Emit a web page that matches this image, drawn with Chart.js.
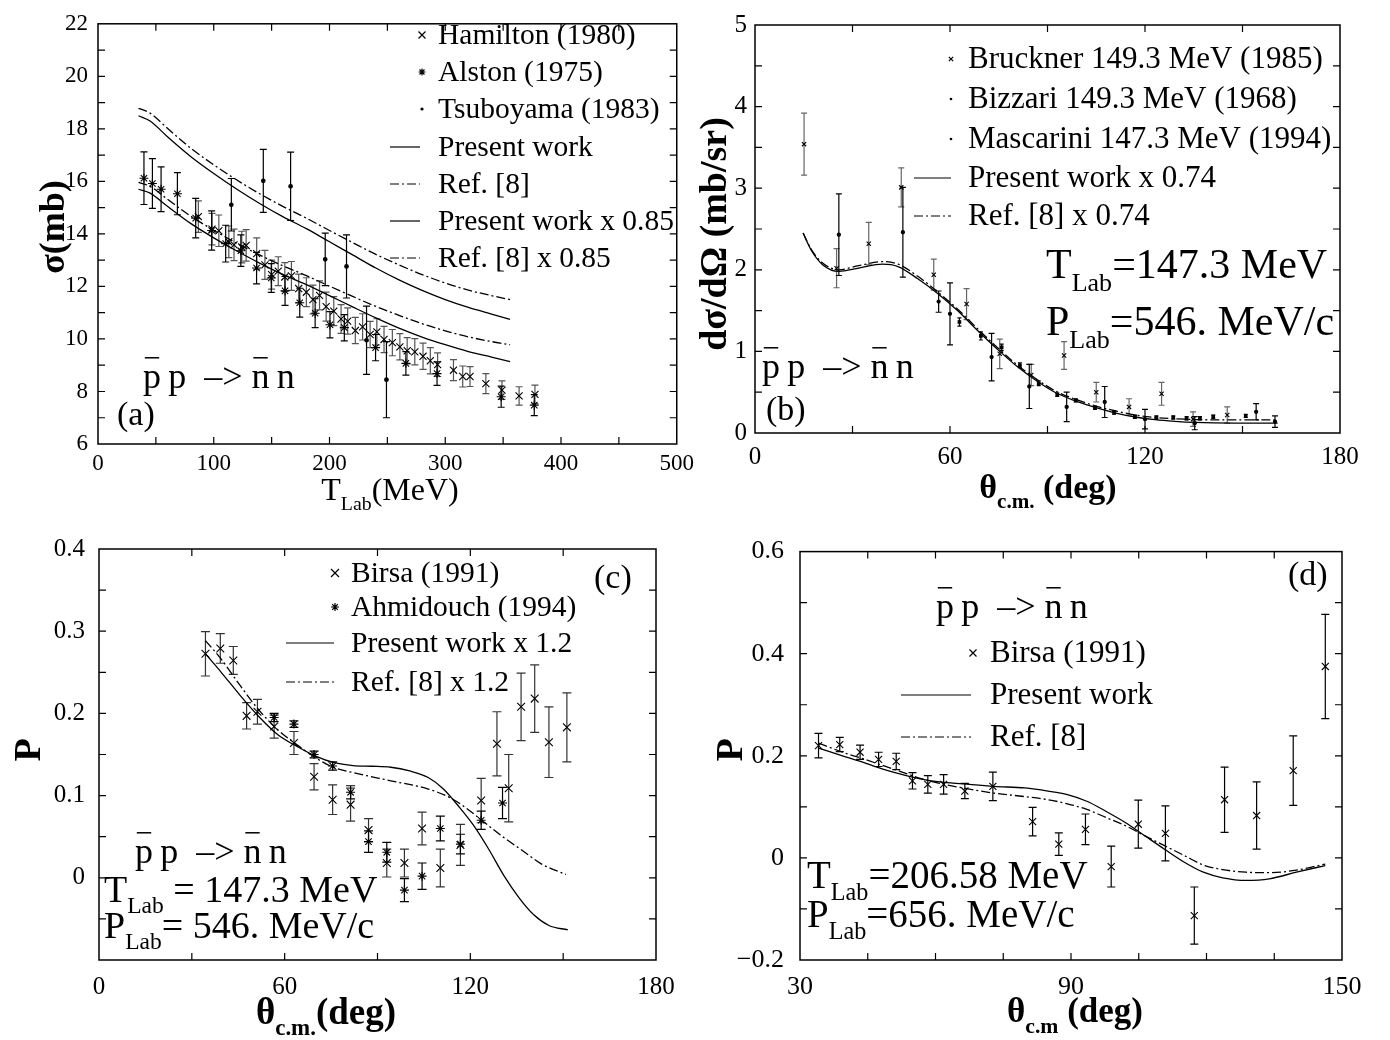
<!DOCTYPE html>
<html>
<head>
<meta charset="utf-8">
<title>pbar p -> nbar n</title>
<script src="https://cdn.jsdelivr.net/npm/chart.js@4.4.1/dist/chart.umd.min.js"></script>
<style>
  html, body { margin: 0; padding: 0; background: #fff; }
  body { width: 1390px; height: 1040px; position: relative; overflow: hidden; }
  canvas { position: absolute; }
</style>
</head>
<body>
<canvas id="panelA" width="700" height="520" style="left:0;top:0"></canvas>
<canvas id="panelB" width="700" height="520" style="left:690px;top:0"></canvas>
<canvas id="panelC" width="700" height="520" style="left:0;top:520px"></canvas>
<canvas id="panelD" width="700" height="520" style="left:690px;top:520px"></canvas>
<script>
const SERIF = '"Liberation Serif", "Times New Roman", Times, serif';

// ---------- (a) total cross section vs T_Lab ----------
const hamiltonT = [86.7, 98.5, 104.4, 113.0, 117.5, 124.2, 128.0, 137.1, 144.2, 150.0,
  155.7, 161.4, 167.1, 173.4, 180.0, 185.7, 191.4, 197.1, 203.7, 210.0,
  215.7, 222.3, 228.6, 235.1, 240.9, 247.1, 254.3, 260.8, 267.1, 273.7,
  280.8, 287.1, 293.4, 307.1, 315.1, 321.4, 335.1, 349.0, 363.8, 377.5];
const hamiltonSigma = [14.66, 14.18, 14.12, 13.70, 13.58, 13.50, 13.56, 13.25, 12.82, 12.45,
  12.58, 12.36, 12.40, 11.92, 11.78, 11.50, 11.66, 11.23, 11.06, 10.76,
  10.68, 10.32, 10.46, 10.17, 10.27, 9.98, 9.86, 9.70, 9.55, 9.51,
  9.34, 9.17, 9.02, 8.81, 8.57, 8.57, 8.30, 8.05, 7.83, 7.89];
const hamiltonErr = [0.6, 0.6, 0.6, 0.6, 0.6, 0.6, 0.6, 0.6, 0.55, 0.55,
  0.55, 0.55, 0.55, 0.55, 0.55, 0.55, 0.55, 0.55, 0.55, 0.55,
  0.5, 0.5, 0.5, 0.5, 0.5, 0.5, 0.5, 0.5, 0.5, 0.5,
  0.5, 0.5, 0.45, 0.4, 0.4, 0.38, 0.38, 0.35, 0.35, 0.35];

const alstonT = [39.7, 47.0, 54.5, 68.6, 84.4, 98.2, 110.3, 123.4, 137.0, 149.7,
  161.6, 174.3, 187.6, 200.4, 212.8, 239.8, 266.0, 292.9, 348.3, 376.9];
const alstonSigma = [16.12, 15.92, 15.70, 15.53, 14.60, 14.13, 13.63, 13.36, 12.70, 12.32,
  11.83, 11.38, 10.98, 10.54, 10.43, 9.67, 9.07, 8.68, 7.80, 7.48];
const alstonErr = [1.0, 0.95, 0.85, 0.8, 0.75, 0.75, 0.7, 0.6, 0.6, 0.55,
  0.55, 0.55, 0.55, 0.5, 0.5, 0.5, 0.45, 0.45, 0.4, 0.4];

const tsuboyamaT = [115.2, 142.8, 166.4, 196.3, 214.7, 232.0, 249.2];
const tsuboyamaSigma = [15.11, 16.02, 15.81, 13.03, 12.76, 9.95, 8.45];
const tsuboyamaErr = [1.0, 1.2, 1.3, 1.0, 1.2, 1.3, 1.45];

const curveT = [35, 45, 60, 80, 100, 120, 140, 160, 180, 200, 220, 240, 260, 280, 300, 320, 340, 356];
const presentSigma = [18.5, 18.3, 17.7, 16.95, 16.3, 15.7, 15.15, 14.65, 14.2, 13.7, 13.2, 12.7, 12.25, 11.85, 11.5, 11.2, 10.95, 10.75];
const ref8Sigma = [18.78, 18.6, 18.02, 17.27, 16.63, 16.05, 15.52, 15.04, 14.6, 14.13, 13.67, 13.22, 12.82, 12.45, 12.13, 11.86, 11.65, 11.5];
const present085Sigma = [15.7, 15.55, 15.05, 14.4, 13.85, 13.35, 12.88, 12.45, 12.07, 11.65, 11.22, 10.8, 10.41, 10.07, 9.78, 9.52, 9.31, 9.14];
const ref8085Sigma = [15.96, 15.81, 15.32, 14.68, 14.14, 13.64, 13.19, 12.78, 12.41, 12.01, 11.62, 11.24, 10.9, 10.58, 10.31, 10.08, 9.9, 9.78];

const ticksAx = [0, 100, 200, 300, 400, 500];
const ticksAy = [6, 8, 10, 12, 14, 16, 18, 20, 22];

// ---------- (b) differential cross section at 147.3 MeV ----------
const brucknerAngle = [15.1, 25.1, 35.0, 45.0, 55.0, 65.1, 75.3, 85.0, 95.1, 105.0, 115.1, 125.1, 134.8, 145.3];
const brucknerDsig = [3.54, 2.02, 2.32, 3.01, 1.94, 1.58, 0.97, 0.71, 0.95, 0.5, 0.32, 0.48, 0.17, 0.22];
const brucknerErr = [0.38, 0.24, 0.26, 0.24, 0.19, 0.19, 0.18, 0.13, 0.17, 0.12, 0.1, 0.14, 0.09, 0.1];

const bizzariAngle = [25.8, 45.5, 56.5, 60.0, 72.8, 84.4, 95.9, 107.6, 120.0, 135.3, 154.2, 160.0];
const bizzariDsig = [2.43, 2.46, 1.61, 1.46, 0.93, 0.57, 0.32, 0.38, 0.17, 0.12, 0.26, 0.14];
const bizzariErr = [0.5, 0.55, 0.13, 0.38, 0.29, 0.27, 0.18, 0.19, 0.12, 0.08, 0.1, 0.07];

const mascariniAngle = [62.9, 69.5, 75.9, 81.5, 87.3, 93.0, 98.7, 104.6, 110.5, 116.9, 123.5, 128.7, 132.8, 136.9, 141.0, 151.0];
const mascariniDsig = [1.36, 1.19, 1.05, 0.83, 0.61, 0.47, 0.4, 0.31, 0.25, 0.2, 0.19, 0.19, 0.18, 0.18, 0.2, 0.21];
const mascariniErr = [0.05, 0.05, 0.04, 0.03, 0.03, 0.02, 0.02, 0.02, 0.02, 0.02, 0.02, 0.02, 0.02, 0.02, 0.02, 0.02];

const curveAngleB = [14.8, 17.3, 20.9, 25.8, 31.9, 39.2, 44, 50.1, 56.2, 62.3, 68.4, 74.5, 80.5, 86.6, 92.7, 98.8, 104.9, 111, 117, 123.1, 129.2, 135.3, 147.4, 160.8];
const presentDsig = [2.45, 2.24, 2.06, 1.98, 2.02, 2.07, 2.04, 1.89, 1.71, 1.5, 1.26, 1.03, 0.82, 0.64, 0.49, 0.39, 0.31, 0.245, 0.196, 0.163, 0.143, 0.13, 0.122, 0.122];
const ref8Dsig = [2.45, 2.25, 2.08, 2.0, 2.05, 2.1, 2.07, 1.92, 1.73, 1.52, 1.28, 1.05, 0.84, 0.66, 0.51, 0.41, 0.33, 0.27, 0.22, 0.19, 0.175, 0.165, 0.16, 0.16];

const ticksBx = [0, 60, 120, 180];
const ticksBy = [0, 1, 2, 3, 4, 5];

// ---------- (c) analysing power at 147.3 MeV ----------
const birsaCAngle = [34.4, 39.2, 43.4, 47.7, 51.2, 56.6, 63.0, 69.5, 75.5, 81.3, 87.1, 93.0, 98.7, 104.4, 110.3, 116.8, 123.5, 128.6, 132.4, 136.4, 140.8, 145.4, 151.2];
const birsaCP = [0.2725, 0.279, 0.2644, 0.197, 0.202, 0.184, 0.164, 0.123, 0.095, 0.089, 0.058, 0.018, 0.018, 0.06, 0.012, 0.04, 0.094, 0.163, 0.109, 0.208, 0.218, 0.165, 0.183];
const birsaCErr = [0.027, 0.018, 0.017, 0.016, 0.015, 0.014, 0.014, 0.016, 0.018, 0.02, 0.014, 0.017, 0.017, 0.02, 0.023, 0.025, 0.027, 0.039, 0.041, 0.041, 0.041, 0.043, 0.042];

const ahmidouchAngle = [56.6, 63.0, 69.5, 75.5, 81.3, 87.1, 93.0, 98.7, 104.4, 110.3, 116.8, 123.5, 130.4];
const ahmidouchP = [0.195, 0.187, 0.15, 0.136, 0.104, 0.044, 0.031, -0.015, 0.002, 0.06, 0.041, 0.07, 0.091];
const ahmidouchErr = [0.005, 0.004, 0.004, 0.005, 0.008, 0.013, 0.012, 0.014, 0.016, 0.015, 0.012, 0.011, 0.019];

const presentAngleC = [34.4, 39.5, 45.6, 51.7, 57.8, 63.9, 70, 76, 82.1, 88.2, 94.3, 100.4, 106.4, 111.3, 116.2, 121, 125.9, 130.8, 135.7, 140.5, 145.4, 151.5];
const presentPC = [0.2725, 0.25, 0.222, 0.196, 0.174, 0.16, 0.148, 0.14, 0.1365, 0.1357, 0.1345, 0.13, 0.122, 0.108, 0.087, 0.064, 0.035, 0.003, -0.024, -0.045, -0.058, -0.0634];
const refAngleC = [34.4, 39.5, 45.6, 51.7, 57.8, 63.9, 70, 76, 82.1, 94.3, 106.4, 113.7, 118.6, 124.7, 130.8, 136.9, 142.9, 150.9];
const refPC = [0.2886, 0.266, 0.234, 0.204, 0.18, 0.162, 0.146, 0.134, 0.128, 0.118, 0.108, 0.097, 0.085, 0.067, 0.049, 0.033, 0.017, 0.004];

const ticksCx = [0, 60, 120, 180];
const ticksCy = [0, 0.1, 0.2, 0.3, 0.4];

// ---------- (d) analysing power at 206.58 MeV ----------
const birsaDAngle = [34.1, 38.8, 43.3, 47.4, 51.3, 54.9, 58.3, 61.8, 66.5, 72.7, 81.5, 87.3, 93.2, 98.9, 104.9, 110.9, 117.3, 124.0, 131.1, 139.2, 146.3];
const birsaDP = [0.22, 0.222, 0.207, 0.193, 0.189, 0.151, 0.144, 0.144, 0.131, 0.14, 0.071, 0.027, 0.056, -0.017, 0.066, 0.048, -0.113, 0.114, 0.083, 0.171, 0.375];
const birsaDErr = [0.024, 0.014, 0.014, 0.014, 0.016, 0.016, 0.017, 0.019, 0.015, 0.028, 0.028, 0.022, 0.03, 0.04, 0.047, 0.054, 0.056, 0.064, 0.066, 0.068, 0.102];

const curveAngleD = [34.1, 39.4, 43.7, 48, 52.3, 56.6, 60.9, 66.1, 72.9, 79.8, 84.9, 89.2, 93.5, 97.8, 102.1, 106.4, 110.7, 115, 119.3, 123.6, 128.7, 133.9, 139.9, 146.3];
const presentPD = [0.215, 0.2, 0.188, 0.175, 0.164, 0.155, 0.149, 0.145, 0.14, 0.137, 0.131, 0.124, 0.111, 0.091, 0.069, 0.043, 0.017, -0.008, -0.028, -0.039, -0.044, -0.041, -0.028, -0.015];
const refPD = [0.225, 0.207, 0.195, 0.182, 0.169, 0.156, 0.146, 0.137, 0.127, 0.12, 0.114, 0.106, 0.095, 0.079, 0.063, 0.043, 0.024, 0.005, -0.014, -0.023, -0.028, -0.029, -0.024, -0.012];

const ticksDx = [30, 90, 150];
const ticksDy = [-0.2, 0, 0.2, 0.4, 0.6];

// ---------- helpers ----------
function pts(xs, ys) {
  return xs.map((x, i) => ({ x: x, y: ys[i] }));
}

function marks(label, xs, ys, errs, style, radius, errColor, cap) {
  return {
    label: label, data: pts(xs, ys), errs: errs, errColor: errColor, capWidth: cap,
    showLine: false, pointStyle: style, pointRadius: radius,
    borderColor: '#000', backgroundColor: '#000', borderWidth: 1.1
  };
}

function curve(label, xs, ys, dashed) {
  return {
    label: label, data: pts(xs, ys), showLine: true, pointRadius: 0,
    borderColor: '#000', borderWidth: 1.3, borderDash: dashed ? [9, 3, 2, 3] : [],
    cubicInterpolationMode: 'monotone', fill: false
  };
}

function fmt(v) {
  return String(Math.round(v * 1000) / 1000).replace('-', '\u2212');
}

function axes(o) {
  const tickFont = { family: SERIF, size: o.font };
  return {
    x: {
      type: 'linear', min: o.xmin, max: o.xmax,
      grid: { display: false, drawTicks: false }, border: { display: false },
      afterBuildTicks: s => { s.ticks = o.xLabels.map(v => ({ value: v })); },
      afterFit: s => { s.height = o.xh; },
      ticks: { color: '#000', font: tickFont, padding: o.xpad, maxRotation: 0, autoSkip: false, callback: v => fmt(v) }
    },
    y: {
      type: 'linear', min: o.ymin, max: o.ymax,
      grid: { display: false, drawTicks: false }, border: { display: false },
      afterBuildTicks: s => { s.ticks = o.yLabels.map(v => ({ value: v })); },
      afterFit: s => { s.width = o.yw; },
      ticks: { color: '#000', font: tickFont, padding: o.ypad, autoSkip: false, callback: v => fmt(v) }
    }
  };
}

// parts: [text, kind]  kind '' normal, 's' subscript, 'o' overlined
function drawRich(ctx, t) {
  const sub = t.size * 0.62;
  const font = sz => (t.bold ? 'bold ' : '') + sz + 'px ' + SERIF;
  const widths = t.parts.map(([s, k]) => { ctx.font = font(k === 's' ? sub : t.size); return ctx.measureText(s).width; });
  const total = widths.reduce((m, w) => m + w, 0);
  ctx.save();
  ctx.translate(t.x, t.y);
  if (t.rot) ctx.rotate(-Math.PI / 2);
  ctx.textAlign = 'left';
  ctx.textBaseline = 'alphabetic';
  let cx = t.align === 'center' ? -total / 2 : 0;
  t.parts.forEach(([s, k], i) => {
    ctx.font = font(k === 's' ? sub : t.size);
    ctx.fillText(s, cx, k === 's' ? t.size * 0.3 : 0);
    if (k === 'o') ctx.fillRect(cx + widths[i] * 0.1, -t.size * 0.86, widths[i] * 0.8, 1.5);
    cx += widths[i];
  });
  ctx.restore();
}

function drawMark(ctx, kind, x, y, L, r) {
  ctx.beginPath();
  if (kind === 'cross') {
    ctx.moveTo(x - r, y - r); ctx.lineTo(x + r, y + r);
    ctx.moveTo(x - r, y + r); ctx.lineTo(x + r, y - r);
    ctx.stroke();
  } else if (kind === 'star') {
    for (let k = 0; k < 4; k++) {
      const a = k * Math.PI / 4;
      ctx.moveTo(x - r * Math.cos(a), y - r * Math.sin(a));
      ctx.lineTo(x + r * Math.cos(a), y + r * Math.sin(a));
    }
    ctx.stroke();
  } else if (kind === 'dot') {
    ctx.arc(x, y, r, 0, Math.PI * 2);
    ctx.fill();
  } else {
    ctx.setLineDash(kind === 'dashdot' ? [9, 3, 2, 3] : []);
    ctx.moveTo(L[0], y); ctx.lineTo(L[1], y);
    ctx.stroke();
    ctx.setLineDash([]);
  }
}

function reaction(x, y, size) {
  return { x: x, y: y, size: size, parts: [['p', 'o'], ['\u2009p', ''], ['  \u2013> ', ''], ['n', 'o'], ['\u2009n', '']] };
}

function makeDeco(id, o) {
  return {
    id: id,
    beforeDatasetsDraw(chart) {
      const ctx = chart.ctx, sx = chart.scales.x, sy = chart.scales.y;
      chart.data.datasets.forEach(ds => {
        if (!ds.errs) return;
        ctx.save();
        ctx.strokeStyle = ds.errColor;
        ctx.lineWidth = 1.2;
        ds.data.forEach((p, i) => {
          const px = sx.getPixelForValue(p.x);
          const lo = sy.getPixelForValue(p.y - ds.errs[i]);
          const hi = sy.getPixelForValue(p.y + ds.errs[i]);
          const c = ds.capWidth;
          ctx.beginPath();
          ctx.moveTo(px, lo); ctx.lineTo(px, hi);
          ctx.moveTo(px - c, lo); ctx.lineTo(px + c, lo);
          ctx.moveTo(px - c, hi); ctx.lineTo(px + c, hi);
          ctx.stroke();
        });
        ctx.restore();
      });
    },
    afterDraw(chart) {
      const ctx = chart.ctx, a = chart.chartArea, sx = chart.scales.x, sy = chart.scales.y;
      ctx.save();
      ctx.strokeStyle = '#000';
      ctx.fillStyle = '#000';
      ctx.lineWidth = 1.5;
      ctx.strokeRect(a.left, a.top, a.right - a.left, a.bottom - a.top);
      // inward ticks on all four sides
      ctx.lineWidth = 1.2;
      ctx.beginPath();
      const nx = Math.round((sx.max - sx.min) / o.stepX);
      for (let k = 1; k < nx; k++) {
        const p = sx.getPixelForValue(sx.min + k * o.stepX);
        ctx.moveTo(p, a.bottom); ctx.lineTo(p, a.bottom - o.tick);
        ctx.moveTo(p, a.top); ctx.lineTo(p, a.top + o.tick);
      }
      const ny = Math.round((sy.max - sy.min) / o.stepY);
      for (let k = 1; k < ny; k++) {
        const p = sy.getPixelForValue(sy.min + k * o.stepY);
        ctx.moveTo(a.left, p); ctx.lineTo(a.left + o.tick, p);
        ctx.moveTo(a.right, p); ctx.lineTo(a.right - o.tick, p);
      }
      ctx.stroke();
      o.texts.forEach(t => drawRich(ctx, t));
      // legend
      const L = o.legend;
      ctx.lineWidth = 1.2;
      L.items.forEach((it, i) => {
        const y = L.rows[i];
        ctx.font = L.size + 'px ' + SERIF;
        ctx.textAlign = 'left';
        ctx.textBaseline = 'middle';
        ctx.fillText(it[0], L.textX, y + 1);
        drawMark(ctx, it[1], L.markX, y, L.lineX, it[2] || L.r);
      });
      ctx.restore();
    }
  };
}

function build(id, datasets, ax, pad, deco) {
  return new Chart(document.getElementById(id), {
    type: 'scatter',
    data: { datasets: datasets },
    options: {
      responsive: false, animation: false, devicePixelRatio: 1, events: [],
      layout: { padding: pad },
      plugins: { legend: { display: false }, tooltip: { enabled: false } },
      scales: axes(ax)
    },
    plugins: [makeDeco('deco_' + id, deco)]
  });
}

// ---------- panel (a) ----------
build('panelA', [
  curve('Present work', curveT, presentSigma, false),
  curve('Ref. [8]', curveT, ref8Sigma, true),
  curve('Present work x 0.85', curveT, present085Sigma, false),
  curve('Ref. [8] x 0.85', curveT, ref8085Sigma, true),
  marks('Hamilton (1980)', hamiltonT, hamiltonSigma, hamiltonErr, 'crossRot', 5, '#555', 3.5),
  marks('Alston (1975)', alstonT, alstonSigma, alstonErr, 'star', 4.5, '#000', 3.5),
  marks('Tsuboyama (1983)', tsuboyamaT, tsuboyamaSigma, tsuboyamaErr, 'circle', 1.8, '#000', 3.5)
], { xmin: 0, xmax: 500, ymin: 6, ymax: 22, xLabels: ticksAx, yLabels: ticksAy, xh: 76, yw: 98, xpad: 6, ypad: 10, font: 23 },
  { top: 13, right: 19, left: 0, bottom: 0 },
  { stepX: 50, stepY: 1, tick: 7,
    texts: [
      { x: 390, y: 500, size: 32, align: 'center', parts: [['T', ''], ['Lab', 's'], ['(MeV)', '']] },
      { x: 64, y: 227, size: 36, bold: true, rot: true, align: 'center', parts: [['\u03c3(mb)', '']] },
      { x: 117, y: 425, size: 34, parts: [['(a)', '']] },
      reaction(143, 388, 36)
    ],
    legend: { textX: 438, markX: 422, lineX: [390, 420], r: 3.5, size: 29.5, rows: [35, 72, 109, 147, 184, 221, 258],
      items: [['Hamilton (1980)', 'cross'], ['Alston (1975)', 'star'], ['Tsuboyama (1983)', 'dot', 1.6],
        ['Present work', 'solid'], ['Ref. [8]', 'dashdot'], ['Present work x 0.85', 'solid'], ['Ref. [8] x 0.85', 'dashdot']] } });

// ---------- panel (b) ----------
build('panelB', [
  curve('Present work x 0.74', curveAngleB, presentDsig, false),
  curve('Ref. [8] x 0.74', curveAngleB, ref8Dsig, true),
  marks('Bruckner 149.3 MeV (1985)', brucknerAngle, brucknerDsig, brucknerErr, 'crossRot', 3, '#666', 3),
  marks('Bizzari 149.3 MeV (1968)', bizzariAngle, bizzariDsig, bizzariErr, 'circle', 1.6, '#000', 3),
  marks('Mascarini 147.3 MeV (1994)', mascariniAngle, mascariniDsig, mascariniErr, 'rect', 1.8, '#000', 2)
], { xmin: 0, xmax: 180, ymin: 0, ymax: 5, xLabels: ticksBx, yLabels: ticksBy, xh: 87, yw: 65, xpad: 9, ypad: 8, font: 25 },
  { top: 25, right: 50, left: 0, bottom: 0 },
  { stepX: 30, stepY: 0.5, tick: 7,
    texts: [
      { x: 358, y: 498, size: 34, bold: true, align: 'center', parts: [['\u03b8', ''], ['c.m.', 's'], [' (deg)', '']] },
      { x: 36, y: 234, size: 38, bold: true, rot: true, align: 'center', parts: [['d\u03c3/d\u03a9 (mb/sr)', '']] },
      { x: 356, y: 278, size: 42, parts: [['T', ''], ['Lab', 's'], ['=147.3 MeV', '']] },
      { x: 356, y: 335, size: 42, parts: [['P', ''], ['Lab', 's'], ['=546. MeV/c', '']] },
      reaction(72, 378, 36),
      { x: 76, y: 420, size: 34, parts: [['(b)', '']] }
    ],
    legend: { textX: 278, markX: 261, lineX: [224, 261], r: 2.2, size: 31, rows: [59, 99, 139, 178, 216],
      items: [['Bruckner 149.3 MeV (1985)', 'cross'], ['Bizzari 149.3 MeV (1968)', 'dot', 1.3], ['Mascarini 147.3 MeV (1994)', 'dot', 1.3],
        ['Present work x 0.74', 'solid'], ['Ref. [8] x 0.74', 'dashdot']] } });

// ---------- panel (c) ----------
build('panelC', [
  curve('Present work x 1.2', presentAngleC, presentPC, false),
  curve('Ref. [8] x 1.2', refAngleC, refPC, true),
  marks('Birsa (1991)', birsaCAngle, birsaCP, birsaCErr, 'crossRot', 5.5, '#333', 4.5),
  marks('Ahmidouch (1994)', ahmidouchAngle, ahmidouchP, ahmidouchErr, 'star', 4.5, '#000', 4.5)
], { xmin: 0, xmax: 180, ymin: -0.1, ymax: 0.4, xLabels: ticksCx, yLabels: ticksCy, xh: 80, yw: 99, xpad: 12, ypad: 14, font: 25 },
  { top: 26, right: 44, left: 0, bottom: 0 },
  { stepX: 30, stepY: 0.05, tick: 7,
    texts: [
      { x: 326, y: 504, size: 37, bold: true, align: 'center', parts: [['\u03b8', ''], ['c.m.', 's'], ['(deg)', '']] },
      { x: 40, y: 230, size: 38, bold: true, rot: true, align: 'center', parts: [['P', '']] },
      { x: 594, y: 68, size: 34, parts: [['(c)', '']] },
      reaction(135, 343, 36),
      { x: 104, y: 382, size: 38, parts: [['T', ''], ['Lab', 's'], [' = 147.3 MeV', '']] },
      { x: 104, y: 418, size: 38, parts: [['P', ''], ['Lab', 's'], ['= 546. MeV/c', '']] }
    ],
    legend: { textX: 351, markX: 335, lineX: [286, 334], r: 4, size: 29.5, rows: [53, 87, 123, 162],
      items: [['Birsa (1991)', 'cross'], ['Ahmidouch (1994)', 'star'], ['Present work x 1.2', 'solid'], ['Ref. [8] x 1.2', 'dashdot']] } });

// ---------- panel (d) ----------
build('panelD', [
  curve('Present work', curveAngleD, presentPD, false),
  curve('Ref. [8]', curveAngleD, refPD, true),
  marks('Birsa (1991)', birsaDAngle, birsaDP, birsaDErr, 'crossRot', 5, '#000', 4)
], { xmin: 30, xmax: 150, ymin: -0.2, ymax: 0.6, xLabels: ticksDx, yLabels: ticksDy, xh: 80, yw: 110, xpad: 12, ypad: 16, font: 26 },
  { top: 26, right: 48, left: 0, bottom: 0 },
  { stepX: 15, stepY: 0.1, tick: 7,
    texts: [
      { x: 385, y: 502, size: 35, bold: true, align: 'center', parts: [['\u03b8', ''], ['c.m', 's'], [' (deg)', '']] },
      { x: 52, y: 230, size: 38, bold: true, rot: true, align: 'center', parts: [['P', '']] },
      { x: 598, y: 65, size: 34, parts: [['(d)', '']] },
      reaction(246, 98, 36),
      { x: 117, y: 368, size: 39, parts: [['T', ''], ['Lab', 's'], ['=206.58 MeV', '']] },
      { x: 117, y: 407, size: 39, parts: [['P', ''], ['Lab', 's'], ['=656. MeV/c', '']] }
    ],
    legend: { textX: 300, markX: 283, lineX: [211, 281], r: 3.5, size: 31, rows: [133, 175, 217],
      items: [['Birsa (1991)', 'cross'], ['Present work', 'solid'], ['Ref. [8]', 'dashdot']] } });
</script>
</body>
</html>
